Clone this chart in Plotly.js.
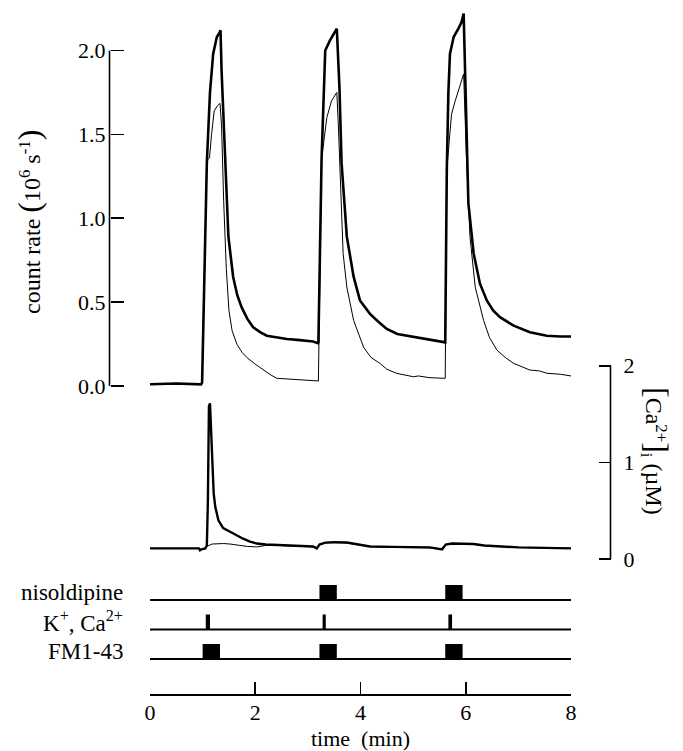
<!DOCTYPE html>
<html>
<head>
<meta charset="utf-8">
<script src="https://cdn.plot.ly/plotly-3.0.1.min.js"></script>
<style>html,body{margin:0;padding:0;background:#fff;}</style>
</head>
<body>
<div id="chart" style="width:683px;height:751px;"></div>
<script>
// ---- count rate (10^6 s^-1), thick trace ----
const countThickT = [0, 0.5, 0.97, 0.99, 1.08, 1.14, 1.20, 1.27, 1.31, 1.34, 1.36, 1.43, 1.49, 1.58, 1.66, 1.74, 1.85, 1.96, 2.10, 2.22, 2.40, 2.60, 2.80, 2.98, 3.10, 3.19,
  3.20, 3.26, 3.30, 3.33, 3.42, 3.50, 3.55, 3.60, 3.64, 3.74, 3.87, 3.99, 4.18, 4.35, 4.50, 4.70, 4.88, 5.05, 5.26, 5.45, 5.60,
  5.61, 5.64, 5.67, 5.70, 5.77, 5.86, 5.92, 5.96, 6.01, 6.05, 6.15, 6.27, 6.40, 6.52, 6.65, 6.91, 7.22, 7.54, 7.80, 8.00];
const countThickV = [0.01, 0.015, 0.01, 0.02, 1.33, 1.75, 1.98, 2.08, 2.10, 2.12, 1.88, 1.39, 0.89, 0.65, 0.54, 0.47, 0.40, 0.35, 0.32, 0.30, 0.29, 0.28, 0.275, 0.27, 0.265, 0.255,
  0.26, 1.35, 1.75, 2.00, 2.06, 2.10, 2.13, 1.78, 1.33, 0.89, 0.65, 0.51, 0.43, 0.38, 0.34, 0.31, 0.30, 0.29, 0.28, 0.27, 0.26,
  0.26, 1.29, 1.75, 1.98, 2.08, 2.13, 2.17, 2.22, 1.59, 1.09, 0.79, 0.61, 0.51, 0.45, 0.41, 0.36, 0.32, 0.30, 0.295, 0.295];

// ---- count rate, thin trace ----
const countThinT = [0, 0.5, 0.97, 0.99, 1.08, 1.10, 1.13, 1.17, 1.22, 1.28, 1.33, 1.36, 1.40, 1.45, 1.50, 1.56, 1.65, 1.75, 1.84, 2.00, 2.15, 2.30, 2.41, 2.60, 2.79, 3.00, 3.19,
  3.20, 3.26, 3.30, 3.36, 3.45, 3.52, 3.55, 3.58, 3.61, 3.67, 3.74, 3.87, 4.06, 4.20, 4.37, 4.50, 4.69, 5.01, 5.10, 5.30, 5.58, 5.60,
  5.61, 5.64, 5.68, 5.73, 5.80, 5.88, 5.93, 5.96, 6.01, 6.08, 6.18, 6.34, 6.45, 6.59, 6.75, 6.91, 7.22, 7.40, 7.54, 7.80, 8.00];
const countThinV = [0.01, 0.012, 0.01, 0.02, 1.33, 1.35, 1.36, 1.50, 1.64, 1.67, 1.685, 1.55, 1.10, 0.70, 0.45, 0.33, 0.25, 0.20, 0.17, 0.13, 0.095, 0.065, 0.046, 0.042, 0.036, 0.032, 0.03,
  0.03, 1.35, 1.45, 1.60, 1.70, 1.73, 1.75, 1.55, 1.29, 0.79, 0.59, 0.39, 0.23, 0.17, 0.135, 0.10, 0.075, 0.055, 0.06, 0.05, 0.046, 0.046,
  0.046, 1.29, 1.45, 1.62, 1.70, 1.78, 1.84, 1.86, 1.39, 0.89, 0.59, 0.39, 0.29, 0.215, 0.17, 0.135, 0.095, 0.09, 0.076, 0.07, 0.06];

// ---- [Ca2+]i (uM), thick trace ----
const caThickT = [0, 0.5, 0.93, 0.95, 0.98, 1.05, 1.08, 1.10, 1.12, 1.14, 1.165, 1.19, 1.21, 1.24, 1.30, 1.39, 1.52, 1.65, 1.77, 1.90, 2.03, 2.20, 2.47, 2.80, 3.10, 3.17, 3.22, 3.33, 3.50, 3.74, 3.95, 4.18, 4.60, 5.00, 5.32, 5.55, 5.62, 5.74, 5.95, 6.15, 6.35, 6.59, 7.00, 7.50, 8.00];
const caThickV = [0.11, 0.11, 0.11, 0.09, 0.10, 0.11, 0.14, 0.60, 1.58, 1.61, 1.20, 0.89, 0.68, 0.54, 0.40, 0.32, 0.28, 0.24, 0.21, 0.18, 0.16, 0.15, 0.145, 0.135, 0.13, 0.11, 0.15, 0.17, 0.175, 0.17, 0.15, 0.13, 0.125, 0.12, 0.12, 0.10, 0.15, 0.16, 0.16, 0.155, 0.14, 0.13, 0.12, 0.115, 0.11];

// ---- [Ca2+]i, thin trace ----
const caThinT = [0, 0.5, 0.93, 0.95, 0.98, 1.05, 1.10, 1.18, 1.27, 1.40, 1.52, 1.70, 1.85, 2.03, 2.20, 2.47, 2.80, 3.10, 3.17, 3.22, 3.33, 3.50, 3.74, 3.95, 4.18, 4.60, 5.00, 5.32, 5.55, 5.62, 5.74, 5.95, 6.15, 6.35, 6.59, 7.00, 7.50, 8.00];
const caThinV = [0.11, 0.11, 0.11, 0.09, 0.10, 0.11, 0.135, 0.155, 0.16, 0.16, 0.155, 0.14, 0.13, 0.125, 0.14, 0.14, 0.13, 0.125, 0.11, 0.15, 0.165, 0.17, 0.165, 0.15, 0.13, 0.12, 0.12, 0.115, 0.10, 0.15, 0.155, 0.155, 0.15, 0.14, 0.13, 0.12, 0.115, 0.11];

// ---- stimulus protocol (min) ----
const rowLabels = ["nisoldipine", "K<sup>+</sup>, Ca<sup>2+</sup>", "FM1-43"];
const nisoStart = [3.22, 5.61], nisoEnd = [3.55, 5.94];
const kStart = [1.06, 3.28, 5.67], kEnd = [1.14, 3.34, 5.74];
const fmStart = [1.00, 3.22, 5.61], fmEnd = [1.33, 3.55, 5.94];

// ---- axes ticks ----
const timeTicks = [0, 2, 4, 6, 8];
const countTicks = [0, 0.5, 1.0, 1.5, 2.0];
const countTickText = ["0.0", "0.5", "1.0", "1.5", "2.0"];
const caTicks = [0, 1, 2];

// ---------------- build ----------------
const W = 683, H = 751;
const px = v => v / W, py = v => 1 - v / H;
const FONT = "Liberation Serif, Times New Roman, serif";
const FS = 22;
const rowY = [2, 1, 0];
const blockH = 0.508;

const traces = [];
traces.push({x: countThinT, y: countThinV, xaxis: 'x', yaxis: 'y', mode: 'lines', line: {color: '#000', width: 1}, hoverinfo: 'skip'});
traces.push({x: countThickT, y: countThickV, xaxis: 'x', yaxis: 'y', mode: 'lines', line: {color: '#000', width: 2.6}, hoverinfo: 'skip'});
traces.push({x: caThinT, y: caThinV, xaxis: 'x', yaxis: 'y2', mode: 'lines', line: {color: '#000', width: 1}, hoverinfo: 'skip'});
traces.push({x: caThickT, y: caThickV, xaxis: 'x', yaxis: 'y2', mode: 'lines', line: {color: '#000', width: 2.4}, hoverinfo: 'skip'});

// baseline of each protocol row
rowY.forEach(r => {
  traces.push({x: [timeTicks[0], timeTicks[timeTicks.length - 1]], y: [r, r], xaxis: 'x', yaxis: 'y3', mode: 'lines', line: {color: '#000', width: 1.8}, hoverinfo: 'skip'});
});
function blocks(starts, ends, row) {
  return {type: 'bar', orientation: 'h', base: starts, x: starts.map((s, i) => ends[i] - s),
    y: starts.map(() => row + blockH / 2), width: starts.map(() => blockH),
    xaxis: 'x', yaxis: 'y3', marker: {color: '#000', line: {width: 0}}, hoverinfo: 'skip'};
}
traces.push(blocks(nisoStart, nisoEnd, rowY[0]));
traces.push(blocks(kStart, kEnd, rowY[1]));
traces.push(blocks(fmStart, fmEnd, rowY[2]));

const tickFont = {family: FONT, size: FS, color: '#000'};
const big = s => '<span style="font-size:32px">' + s + '</span>';

const layout = {
  width: W, height: H, autosize: false,
  margin: {l: 0, r: 0, t: 0, b: 0, pad: 0},
  paper_bgcolor: '#fff', plot_bgcolor: 'rgba(0,0,0,0)',
  showlegend: false, barmode: 'overlay',
  font: {family: FONT, color: '#000'},
  xaxis: {
    domain: [px(150), px(571)], range: [0, 8], anchor: 'free', position: py(694),
    showgrid: false, zeroline: false, showline: true, linecolor: '#000', linewidth: 1.6,
    ticks: 'inside', ticklen: 12, tickwidth: 1.6, tickcolor: '#000',
    tickvals: timeTicks, ticktext: timeTicks.map(String), tickfont: tickFont, ticklabelstandoff: -2,
    title: {text: 'time\u00a0 (min)', font: {family: FONT, size: FS, color: '#000'}, standoff: 8}
  },
  yaxis: {
    domain: [py(394.39), py(8.56)], range: [-0.05, 2.25], anchor: 'free', position: px(109.5),
    showgrid: false, zeroline: false, showline: false,
    ticks: 'inside', ticklen: 13, tickwidth: 1.6, tickcolor: '#000',
    tickvals: countTicks, ticktext: countTickText, tickfont: tickFont, ticklabelstandoff: 4
  },
  yaxis2: {
    domain: [py(568.67), py(360.87)], range: [-0.1, 2.05], anchor: 'free', position: px(610.5), side: 'right',
    showgrid: false, zeroline: false, showline: false,
    ticks: 'inside', ticklen: 12, tickwidth: 1.6, tickcolor: '#000',
    tickvals: caTicks, ticktext: caTicks.map(String), tickfont: tickFont, ticklabelstandoff: 12
  },
  yaxis3: {
    domain: [py(664.9), py(582.3)], range: [-0.2, 2.6], anchor: 'x',
    showgrid: false, zeroline: false, showline: false, showticklabels: false, ticks: ''
  },
  shapes: [
    {type: 'line', xref: 'paper', yref: 'y', x0: px(109.5), x1: px(109.5), y0: countTicks[0], y1: countTicks[countTicks.length - 1], line: {color: '#000', width: 1.6}},
    {type: 'line', xref: 'paper', yref: 'y2', x0: px(610.5), x1: px(610.5), y0: caTicks[0], y1: caTicks[caTicks.length - 1], line: {color: '#000', width: 1.6}}
  ],
  annotations: [
    {xref: 'paper', yref: 'paper', x: px(29), y: py(222), textangle: -90, showarrow: false,
     text: 'count rate ' + big('(') + '10<sup>6</sup> s<sup>-1</sup>' + big(')'),
     font: {family: FONT, size: 24, color: '#000'}, xanchor: 'center', yanchor: 'middle'},
    {xref: 'paper', yref: 'paper', x: px(656), y: py(451), textangle: 90, showarrow: false,
     text: big('[') + 'Ca<sup>2+</sup>' + big(']') + '<sub>i</sub> (µM)',
     font: {family: FONT, size: 24, color: '#000'}, xanchor: 'center', yanchor: 'middle'}
  ].concat(rowLabels.map((lab, i) => ({
     xref: 'paper', yref: 'y3', x: px(125), y: rowY[i] + 0.27, xanchor: 'right', yanchor: 'middle',
     showarrow: false, text: lab, font: {family: FONT, size: 23, color: '#000'}
  })))
};

Plotly.newPlot('chart', traces, layout, {staticPlot: true, displayModeBar: false});
</script>
</body>
</html>
